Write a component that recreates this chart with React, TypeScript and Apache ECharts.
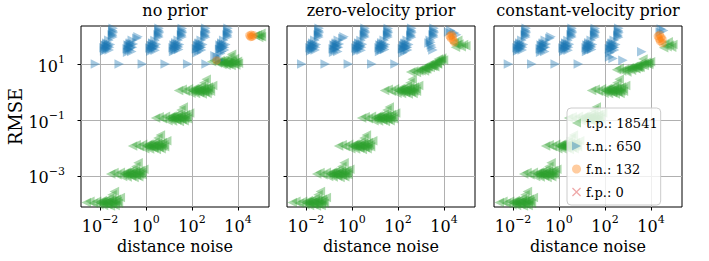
import React, { useEffect, useRef } from 'react';
import * as echarts from 'echarts';

const FONT = '"DejaVu Serif", serif';

const panelTitles = ['no prior', 'zero-velocity prior', 'constant-velocity prior'];
const classLabels = ['t.p.', 't.n.', 'f.n.', 'f.p.'];
const classCounts = [18541, 650, 132, 0];
const xTicks = [0.01, 1, 100, 10000];
const yTicks = [0.001, 0.1, 10];
const xRange = [1.48e-3, 2.24e5];
const yRange = [7.8e-5, 229];

// true positives shared by all three panels (distance noise, RMSE)
const tpShared: number[][] = [
  [2.5e-3, 1.12e-4], [3.6e-3, 1.26e-4], [5.0e-3, 1.07e-4], [7.1e-3, 1.26e-4], [8.9e-3, 9.3e-5], [1.12e-2, 1.2e-4], [1.26e-2, 1.05e-4],
  [1.41e-2, 8.9e-5], [1.78e-2, 1.35e-4], [2.0e-2, 1.17e-4], [2.24e-2, 1.0e-4], [2.5e-2, 1.58e-4], [2.8e-2, 8.5e-5], [3.16e-2, 1.41e-4],
  [3.3e-2, 2.14e-4], [3.55e-2, 1.17e-4], [4.2e-2, 2.8e-4], [4.5e-2, 8.9e-5], [5.0e-2, 1.48e-4], [6.3e-2, 1.07e-4], [7.6e-2, 1.7e-4],
  [1.0e-2, 1.12e-4], [1.26e-2, 1.32e-4], [1.58e-2, 1.07e-4], [2.0e-2, 9.55e-5], [2.51e-2, 1.26e-4], [3.16e-2, 1.05e-4],
  [3.98e-2, 1.32e-4], [4.68e-2, 1.1e-4], [1.41e-2, 1.17e-4], [2.24e-2, 1.12e-4], [3.55e-2, 1.0e-4], [5.62e-2, 1.26e-4],
  [2.9e-2, 1.17e-3], [4.0e-2, 1.32e-3], [5.4e-2, 1.1e-3], [7.6e-2, 1.35e-3], [9.5e-2, 9.6e-4], [0.12, 1.26e-3], [0.135, 1.08e-3],
  [0.15, 9.3e-4], [0.19, 1.42e-3], [0.21, 1.23e-3], [0.24, 1.06e-3], [0.27, 1.66e-3], [0.3, 8.9e-4], [0.34, 1.48e-3],
  [0.36, 2.2e-3], [0.38, 1.2e-3], [0.45, 2.95e-3], [0.48, 9.4e-4], [0.54, 1.58e-3], [0.66, 1.12e-3], [0.8, 1.75e-3],
  [0.112, 1.17e-3], [0.141, 1.38e-3], [0.178, 1.12e-3], [0.224, 1.0e-3], [0.282, 1.32e-3], [0.355, 1.1e-3],
  [0.447, 1.38e-3], [0.525, 1.15e-3], [0.158, 1.23e-3], [0.251, 1.17e-3], [0.398, 1.05e-3], [0.631, 1.32e-3],
  [0.26, 1.18e-2], [0.37, 1.3e-2], [0.5, 1.13e-2], [0.71, 1.36e-2], [0.88, 9.5e-3], [1.12, 1.25e-2], [1.27, 1.1e-2],
  [1.42, 9.2e-3], [1.78, 1.4e-2], [2.0, 1.24e-2], [2.25, 1.07e-2], [2.5, 1.68e-2], [2.8, 8.9e-3], [3.15, 1.47e-2],
  [3.3, 2.3e-2], [3.6, 1.2e-2], [4.2, 2.9e-2], [4.5, 9.4e-3], [5.0, 1.57e-2], [6.4, 1.12e-2], [7.9, 1.8e-2],
  [1.05, 1.17e-2], [1.32, 1.38e-2], [1.66, 1.12e-2], [2.09, 1.0e-2], [2.63, 1.32e-2], [3.31, 1.1e-2],
  [4.17, 1.38e-2], [4.9, 1.15e-2], [1.48, 1.23e-2], [2.34, 1.17e-2], [3.72, 1.05e-2], [5.9, 1.32e-2],
  [2.6, 0.118], [3.7, 0.131], [5.1, 0.112], [7.0, 0.136], [9.0, 0.095], [11.3, 0.126], [12.5, 0.109],
  [14.2, 0.093], [17.7, 0.142], [20.2, 0.122], [22.3, 0.106], [25.3, 0.165], [28.0, 0.089], [31.8, 0.149],
  [33.0, 0.23], [35.3, 0.119], [41.5, 0.29], [45.0, 0.094], [50.5, 0.157], [63.5, 0.111], [79.0, 0.177],
  [10.5, 0.117], [13.2, 0.138], [16.6, 0.112], [20.9, 0.1], [26.3, 0.132], [33.1, 0.11],
  [41.7, 0.138], [49.0, 0.115], [14.8, 0.123], [23.4, 0.117], [37.2, 0.105], [59.0, 0.132],
  [26.0, 1.13], [37.5, 1.25], [50.5, 1.06], [70.0, 1.3], [90.0, 0.91], [112, 1.21], [127, 1.04],
  [142, 0.89], [177, 1.36], [202, 1.16], [222, 1.02], [253, 1.6], [280, 0.85], [318, 1.4],
  [330, 2.15], [352, 1.14], [415, 2.85], [450, 0.89], [505, 1.5], [635, 1.06], [790, 1.72],
  [105, 1.12], [132, 1.38], [166, 1.07], [209, 0.95], [263, 1.32], [331, 1.05],
  [417, 1.38], [490, 1.1], [148, 1.23], [234, 1.12], [372, 1.0], [590, 1.32],
];

const tpNoPrior: number[][] = [
  [708, 12.0], [955, 13.2], [1259, 11.0], [1660, 13.5], [1995, 9.55], [2239, 11.2], [2512, 12.6], [3020, 9.12], [3548, 14.1],
  [3802, 10.0], [4169, 10.7], [4467, 17.8], [5012, 8.91], [5248, 22.4], [6026, 11.7], [7079, 15.8], [7943, 9.33], [9550, 12.6], [10471, 10.7],
  [1400, 11.5], [1800, 12.3], [2300, 10.5], [2800, 11.8], [3300, 10.3], [4000, 12.0], [4800, 11.0], [5600, 12.9], [6500, 10.2],
  [8000, 11.3], [2000, 12.9], [3600, 11.0],
  [56234, 105], [70795, 112], [79433, 89.1], [89125, 100], [100000, 126], [104713, 95.5],
];
const tpZeroVel: number[][] = [
  [355, 5.25], [479, 5.62], [631, 5.01], [794, 6.31], [1000, 5.75], [1259, 7.24], [1413, 5.62], [1585, 6.61], [1995, 8.51], [2239, 9.55],
  [2512, 7.59], [3020, 10.0], [3548, 8.91], [3981, 7.94], [4169, 12.0], [5012, 10.5], [5623, 15.1], [6607, 13.2], [7943, 16.6], [9550, 14.1],
  [794, 5.6], [1122, 6.6], [1585, 7.2], [1995, 7.9], [2818, 8.9], [3548, 10.0], [4786, 11.7], [6310, 12.6], [7586, 14.5],
  [1778, 6.6], [3162, 8.3], [5248, 10.0],
  [28184, 56.2], [31623, 39.8], [35481, 47.9], [39811, 70.8], [44668, 52.5], [56234, 41.7], [70795, 50.1], [89125, 44.7],
];
const tpConstVel: number[][] = [
  [316, 6.31], [417, 7.08], [525, 5.62], [708, 6.61], [891, 5.25], [1122, 7.41], [1413, 6.03], [1585, 7.08], [1778, 8.32], [2239, 6.76],
  [2512, 7.94], [2818, 9.33], [3311, 7.59], [3981, 11.2], [4467, 15.1], [5012, 8.91], [6310, 11.5], [7943, 9.55], [9550, 12.0],
  [794, 6.0], [1000, 6.6], [1259, 6.9], [1585, 7.6], [2000, 7.2], [2512, 8.5], [3162, 8.3], [3981, 9.5], [5012, 10.2],
  [6310, 10.5], [7943, 11.2], [2818, 7.6],
  [35481, 38.0], [39811, 50.1], [50119, 41.7], [56234, 63.1], [63096, 47.9], [79433, 39.8], [89125, 50.1],
];

// true negatives shared by all panels
const tnShared: number[][] = [
  [3.55e-2, 158], [3.8e-2, 132], [3.4e-2, 112], [3.63e-2, 93], [3.72e-2, 191], [2.4e-2, 71], [2.0e-2, 56], [1.66e-2, 48],
  [2.24e-2, 42], [1.48e-2, 38], [1.91e-2, 33], [1.58e-2, 29], [2.51e-2, 32], [2.82e-2, 50],
  [1.78e-2, 45], [2.1e-2, 38], [1.7e-2, 35], [2.3e-2, 48], [1.95e-2, 52], [2.6e-2, 40], [3.5e-2, 105], [3.7e-2, 145],
  [0.447, 95.5], [0.398, 83], [0.251, 71], [0.209, 56], [0.166, 48], [0.224, 40], [0.151, 35.5], [0.191, 31.6], [0.158, 26.3],
  [0.24, 28.2], [0.282, 52.5], [0.178, 45], [0.21, 38], [0.17, 33], [0.23, 49], [0.2, 52], [0.26, 40],
  [3.6, 160], [3.85, 131], [3.35, 113], [3.65, 92], [3.7, 190], [2.45, 70], [2.0, 57], [1.65, 47], [2.25, 42.5], [1.47, 37.5],
  [1.9, 33.5], [1.6, 28.5], [2.5, 31], [2.85, 51], [1.8, 44], [2.1, 38.5], [1.72, 35], [2.35, 47], [1.98, 53], [2.62, 39.5],
  [3.5, 102], [3.75, 146],
  [36.3, 158], [38.9, 132], [34.7, 112], [37.2, 93], [38, 186], [25.1, 71], [20, 57.5], [16.6, 48], [22.9, 42.7], [15.1, 38],
  [19.1, 31.6], [15.8, 28.2], [26.3, 33.1], [28.8, 50], [17.5, 45], [21, 37.5], [17, 34], [23.5, 49], [19.5, 52], [26.5, 40.5],
  [35.5, 104], [37.5, 144],
  [380, 158], [407, 132], [363, 110], [389, 91], [398, 191], [251, 71], [209, 56], [174, 47], [234, 40], [155, 35.5],
  [200, 30.2], [166, 25.1], [263, 31.6], [295, 50], [178, 44], [212, 38], [170, 34.5], [232, 48], [198, 53], [262, 40],
  [372, 101], [390, 147],
];
const tnNoPrior: number[][] = [
  [6.3e-3, 10], [6.8e-2, 10], [0.69, 10], [6.8, 10], [65, 10], [410, 10],
  [3548, 158], [3802, 132], [3388, 112], [3631, 93], [3715, 191], [2399, 71], [1995, 56], [1660, 48], [2239, 40], [1585, 33],
  [1995, 28.2], [1778, 24], [2630, 31.6], [2951, 50], [1259, 17.8], [1585, 14.1], [1000, 20],
  [1760, 44], [2100, 38], [1700, 34], [2340, 48], [1980, 52], [2620, 40], [3500, 104], [3720, 145],
];
const tnZeroVel: number[][] = [
  [6.5e-3, 10], [6.8e-2, 10], [0.69, 10], [7.2, 10], [74, 10],
  [3548, 158], [3802, 132], [3388, 112], [3631, 93], [3715, 191], [2512, 71], [2239, 56], [2818, 48], [3311, 31.6],
  [3500, 104], [3720, 145], [2700, 60], [3000, 40],
  [15849, 141], [19953, 158], [28184, 132], [35481, 112],
];
const tnConstVel: number[][] = [
  [6.3e-3, 10], [6.5e-2, 10], [0.68, 10], [6.9, 10],
  [28184, 178], [35481, 158], [25119, 141], [3981, 27.5], [603, 13.8], [224, 15.8], [158, 17.8],
];

// false negatives
const fnNoPrior: number[][] = [[1175, 13.5], [31623, 105], [35481, 93.3], [38019, 112], [41687, 95.5], [47863, 107]];
const fnZeroVel: number[][] = [[17783, 100], [19953, 85.1], [21380, 112], [23988, 95.5], [25119, 70.8], [28184, 60.3]];
const fnConstVel: number[][] = [[19953, 100], [22387, 79.4], [23988, 112], [25119, 66.1], [28184, 89.1], [31623, 56.2], [31623, 75.9]];
// false positives (none)
const fpAll: number[][] = [];

const tpPanels = [tpNoPrior, tpZeroVel, tpConstVel];
const tnPanels = [tnNoPrior, tnZeroVel, tnConstVel];
const fnPanels = [fnNoPrior, fnZeroVel, fnConstVel];

const COLORS = ['rgba(44,160,44,0.5)', 'rgba(31,119,180,0.5)', 'rgba(255,127,14,0.5)', 'rgba(214,39,40,0.5)'];
const CROSS = 'path://M0,1 L1,0 L5,4 L9,0 L10,1 L6,5 L10,9 L9,10 L5,6 L1,10 L0,9 L4,5 Z';
const LEFT_TRI = 'path://M0,5 L10,0 L10,10 Z';
const RIGHT_TRI = 'path://M10,5 L0,0 L0,10 Z';
const GRID_LEFTS = [81, 287, 494];

function expLabel(v: number) {
  const e = Math.round(Math.log10(v));
  const s = e < 0 ? '\u2212' + Math.abs(e) : String(e);
  return '{b|10}{s|' + s + '}';
}
const rich = {
  b: { fontFamily: FONT, fontSize: 16, lineHeight: 20, verticalAlign: 'bottom', color: '#000' },
  s: { fontFamily: FONT, fontSize: 11, lineHeight: 11, verticalAlign: 'top', color: '#000' },
};

export default function App() {
  const ref = useRef<HTMLDivElement>(null);
  useEffect(() => {
    if (!ref.current) return;
    const chart = echarts.init(ref.current, null, { renderer: 'svg' });
    const names = classLabels.map((l, i) => l + ': ' + classCounts[i]);
    const icons = [LEFT_TRI, RIGHT_TRI, 'circle', CROSS];
    const grid = GRID_LEFTS.map((left) => ({
      left, top: 26, width: 188, height: 181, show: true, borderColor: '#000', borderWidth: 1, backgroundColor: 'transparent',
    }));
    const xAxis = GRID_LEFTS.map((_, i) => ({
      type: 'log', logBase: 10, gridIndex: i, min: xRange[0], max: xRange[1],
      name: 'distance noise', nameLocation: 'middle', nameGap: 29,
      nameTextStyle: { fontFamily: FONT, fontSize: 16, color: '#000' },
      axisLine: { show: false },
      axisTick: { show: true, length: 3.5, customValues: xTicks, lineStyle: { color: '#000', width: 1 } },
      axisLabel: { customValues: xTicks, margin: 7, formatter: expLabel, rich },
      splitLine: { show: true, lineStyle: { color: '#b0b0b0', width: 1 } },
      minorTick: { show: false }, minorSplitLine: { show: false },
    }));
    const yAxis = GRID_LEFTS.map((_, i) => ({
      type: 'log', logBase: 10, gridIndex: i, min: yRange[0], max: yRange[1],
      name: i === 0 ? 'RMSE' : '', nameLocation: 'middle', nameGap: 54, nameRotate: 90,
      nameTextStyle: { fontFamily: FONT, fontSize: 18, color: '#000' },
      axisLine: { show: false },
      axisTick: { show: true, length: 3.5, customValues: yTicks, lineStyle: { color: '#000', width: 1 } },
      axisLabel: { show: i === 0, customValues: yTicks, margin: 16, formatter: expLabel, rich },
      splitLine: { show: true, lineStyle: { color: '#b0b0b0', width: 1 } },
      minorTick: { show: false }, minorSplitLine: { show: false },
    }));
    const series: any[] = [];
    GRID_LEFTS.forEach((_, i) => {
      const common = { type: 'scatter', xAxisIndex: i, yAxisIndex: i, silent: true, emphasis: { disabled: true } };
      series.push({ ...common, name: names[0], data: tpShared.concat(tpPanels[i]), symbol: 'triangle', symbolRotate: 90, symbolSize: 9.5, itemStyle: { color: COLORS[0] } });
      series.push({ ...common, name: names[1], data: tnShared.concat(tnPanels[i]), symbol: 'triangle', symbolRotate: -90, symbolSize: 9.5, itemStyle: { color: COLORS[1] } });
      series.push({ ...common, name: names[2], data: fnPanels[i], symbol: 'circle', symbolSize: 8.5, itemStyle: { color: COLORS[2] } });
      series.push({ ...common, name: names[3], data: fpAll, symbol: CROSS, symbolSize: 8, itemStyle: { color: COLORS[3] } });
    });
    chart.setOption({
      animation: false,
      backgroundColor: '#fff',
      title: panelTitles.map((t, i) => ({
        text: t, left: GRID_LEFTS[i] + 94, top: 2, textAlign: 'center', padding: 0,
        textStyle: { fontFamily: FONT, fontSize: 16, fontWeight: 'normal', color: '#000' },
      })),
      legend: {
        data: names.map((n, i) => ({ name: n, icon: icons[i] })),
        orient: 'vertical', left: 567, top: 108,
        itemWidth: 9, itemHeight: 9, itemGap: 5, padding: [6, 3, 4, 5],
        backgroundColor: 'rgba(255,255,255,0.8)', borderColor: '#cccccc', borderWidth: 1, borderRadius: 4,
        textStyle: { fontFamily: FONT, fontSize: 13, color: '#000', lineHeight: 18 },
        selectedMode: false,
      },
      grid, xAxis, yAxis, series,
    });
    return () => chart.dispose();
  }, []);
  return <div ref={ref} style={{ position: 'fixed', left: 0, top: 0, width: 709, height: 261, background: '#fff' }} />;
}
